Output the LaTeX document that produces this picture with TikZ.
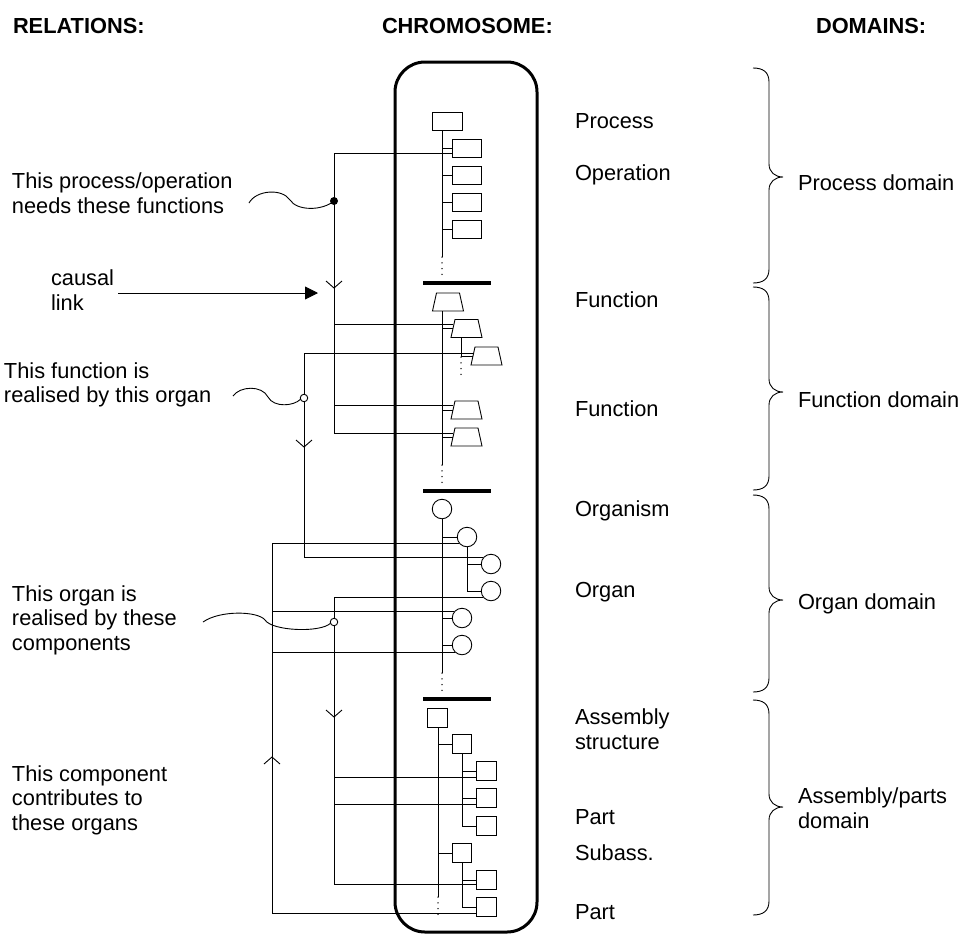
\documentclass[tikz,border=0pt]{standalone}
\usepackage{fontspec}
\setmainfont{Liberation Sans}
\usetikzlibrary{arrows.meta,calc}

\begin{document}
\begin{tikzpicture}[x=1pt,y=-1pt,
  every node/.style={inner sep=0pt,outer sep=0pt},
  rel/.style={line width=0.9pt},
  dotline/.style={line width=1.5pt,dash pattern=on 0pt off 5.8pt,line cap=round},
  lbl/.style={font=\fontsize{21.8}{24.5}\selectfont,align=left,anchor=west},
  hdr/.style={font=\fontsize{21.8}{24.5}\selectfont\bfseries,anchor=west},
  gbox/.style={draw,line width=0.9pt,rectangle,minimum width=29pt,minimum height=18pt},
  sbox/.style={draw,line width=0.9pt,rectangle,minimum width=19.5pt,minimum height=18.5pt},
  fun/.style={rectangle,minimum width=31pt,minimum height=18pt},
  org/.style={draw,line width=0.9pt,circle,minimum size=19.5pt},
  sepbar/.style={fill=black,rectangle,minimum width=68pt,minimum height=3.5pt},
  jdot/.style={fill=black,circle,minimum size=8pt},
  hdot/.style={draw,fill=white,line width=0.9pt,circle,minimum size=7.5pt},
  brace/.style={line width=0.9pt}
]
\useasboundingbox (0,0) rectangle (971,935);

% ---------- headings ----------
\node[hdr] (hRel) at (13,26) {RELATIONS:};
\node[hdr] (hChr) at (382,26) {CHROMOSOME:};
\node[hdr] (hDom) at (816,26) {DOMAINS:};

% ---------- chromosome frame ----------
\node[draw,rounded corners=30pt,line width=3pt,minimum width=142pt,minimum height=870pt] (chrom) at (466,497) {};

% spine x positions
\coordinate (s1) at (442,0);
\coordinate (s2) at (461,0);
\coordinate (s4) at (438,0);

% ---------- process domain ----------
\node[gbox,minimum width=30pt] (P) at (447,121) {};
\node[gbox] (O1) at (466.5,148) {};
\node[gbox] (O2) at (466.5,175) {};
\node[gbox] (O3) at (466.5,202) {};
\node[gbox] (O4) at (466.5,229) {};
\coordinate (d1a) at (442,257);
\coordinate (d1b) at (442,276);
\draw[rel] (P.south -| s1) -- (d1a);
\draw[dotline] (d1a) -- (d1b);
\foreach \n in {O1,O2,O3,O4} \draw[rel] (\n.west -| s1) -- (\n.west);
\node[sepbar] (bar1) at (457,283) {};

% ---------- function domain ----------
\node[fun] (F1) at (448,302) {};
\node[fun] (F2) at (466.5,328.5) {};
\node[fun] (F3) at (486.5,356) {};
\node[fun] (F4) at (466.5,410) {};
\node[fun] (F5) at (466.5,437) {};
% trapezoid outlines, wider at the base
\foreach \n in {F1,F2,F3,F4,F5}
  \draw[rel,line join=miter] (\n.south west) -- (\n.south east) -- ($(\n.north east)+(-4,0)$)
    -- ($(\n.north west)+(4,0)$) -- cycle;
% mid-height points on the slanted left sides
\foreach \n in {F2,F3,F4,F5} \coordinate (\n w) at ($(\n.west)+(2,0)$);
\coordinate (d2a) at (442,465);
\coordinate (d2b) at (442,484);
\draw[rel] (F1.south -| s1) -- (d2a);
\draw[dotline] (d2a) -- (d2b);
\foreach \n in {F2,F4,F5} \draw[rel] (\n w -| s1) -- (\n w);
\coordinate (d3a) at (461,357);
\coordinate (d3b) at (461,375);
\draw[rel] (F2.south -| s2) -- (d3a);
\draw[dotline] (d3a) -- (d3b);
\draw[rel] (F3w -| s2) -- (F3w);
\node[sepbar] (bar2) at (457,491) {};

% ---------- organ domain ----------
\node[org] (C1) at (442,509) {};
\node[org] (C2) at (467,537) {};
\node[org] (C3) at (491,564) {};
\node[org] (C4) at (491,591) {};
\node[org] (C5) at (462,618) {};
\node[org] (C6) at (462,645) {};
\coordinate (d4a) at (442,673);
\coordinate (d4b) at (442,692);
\draw[rel] (C1.south) -- (d4a);
\draw[dotline] (d4a) -- (d4b);
\foreach \n in {C2,C5,C6} \draw[rel] (\n.west -| s1) -- (\n.west);
\draw[rel] (C2.south) |- (C4.west);
\draw[rel] (C3.west -| C2.south) -- (C3.west);
\node[sepbar] (bar3) at (457,699) {};

% ---------- assembly/parts domain ----------
\node[sbox,minimum width=20pt,minimum height=19pt] (A) at (437,717.5) {};
\node[sbox] (B)  at (462,744) {};
\node[sbox] (BC) at (486.5,771) {};
\node[sbox] (BD) at (486.5,798) {};
\node[sbox] (BE) at (486.5,826) {};
\node[sbox] (BF) at (462,853) {};
\node[sbox] (BG) at (486.5,880) {};
\node[sbox] (BH) at (486.5,907) {};
\coordinate (d5a) at (438,897);
\coordinate (d5b) at (438,918);
\draw[rel] (A.south -| s4) -- (d5a);
\draw[dotline] (d5a) -- (d5b);
\foreach \n in {B,BF} \draw[rel] (\n.west -| s4) -- (\n.west);
\draw[rel] (B.south) |- (BE.west);
\foreach \n in {BC,BD} \draw[rel] (\n.west -| B.south) -- (\n.west);
\draw[rel] (BF.south) |- (BH.west);
\draw[rel] (BG.west -| BF.south) -- (BG.west);

% ---------- relation links ----------
\coordinate (t1) at (334,0);
\coordinate (t2) at (304,0);
\coordinate (t3) at (272,0);

\coordinate (e1) at ($(O1.west)+(0,5)$);
\coordinate (e2) at ($(F2w)+(0,-4.5)$);
\coordinate (e3) at ($(F4w)+(0,-5)$);
\coordinate (e4) at ($(F5w)+(0,-4)$);
\coordinate (e5) at ($(F3w)+(0,-3)$);
\coordinate (e6) at (C3.141);
\coordinate (e7) at (C2.219);
\coordinate (e8) at (C5.141);
\coordinate (e9) at (C6.228);
\coordinate (e10) at ($(BH.west)+(0,6)$);
\coordinate (e11) at (C4.219);
\coordinate (e12) at ($(BC.west)+(0,6)$);
\coordinate (e13) at ($(BD.west)+(0,6)$);
\coordinate (e14) at ($(BG.west)+(0,4)$);

% process -> functions
\draw[rel] (e1) -- (e1 -| t1) -- (e4 -| t1) -- (e4);
\draw[rel] (e2 -| t1) -- (e2);
\draw[rel] (e3 -| t1) -- (e3);
% function -> organ
\draw[rel] (e5) -- (e5 -| t2) -- (e6 -| t2) -- (e6);
% component -> organs
\draw[rel] (e7) -- (e7 -| t3) -- (e10 -| t3) -- (e10);
\draw[rel] (e8 -| t3) -- (e8);
\draw[rel] (e9 -| t3) -- (e9);
% organ -> components
\draw[rel] (e11) -- (e11 -| t1) -- (e14 -| t1) -- (e14);
\draw[rel] (e12 -| t1) -- (e12);
\draw[rel] (e13 -| t1) -- (e13);

% direction chevrons
\coordinate (v1) at (334,288);
\coordinate (v2) at (304,447);
\coordinate (v3) at (334,717);
\coordinate (v4) at (272,757);
\draw[rel] ($(v1)+(-8,-7)$) -- (v1) -- ($(v1)+(8,-7)$);
\draw[rel] ($(v2)+(-8,-7)$) -- (v2) -- ($(v2)+(8,-7)$);
\draw[rel] ($(v3)+(-8,-7)$) -- (v3) -- ($(v3)+(8,-7)$);
\draw[rel] ($(v4)+(-8,7)$) -- (v4) -- ($(v4)+(8,7)$);

% junction markers
\node[jdot] (j1) at (334,201) {};
\node[hdot] (j2) at (304,398) {};
\node[hdot] (j3) at (334,622) {};

% ---------- relation captions ----------
\node[lbl] (tNeeds) at (12,193) {This process/operation\\needs these functions};
\node[lbl] (tCausal) at (51,290) {causal\\link};
\node[lbl] (tRealF) at (4,385) {This function is\\realised by this organ};
\node[lbl] (tRealO) at (12,620) {This organ is\\realised by these\\components};
\node[lbl] (tContr) at (12,800) {This component\\contributes to\\these organs};

% wavy leaders
\draw[rel] (249,203) .. controls (256,190) and (282,188) .. (290,200)
  .. controls (297,211) and (322,211) .. (j1.center);
\draw[rel] (233,396) .. controls (240,386) and (262,385) .. (268,397)
  .. controls (274,408) and (294,406) .. (j2.200);
\draw[rel] (203,622) .. controls (220,610) and (258,611) .. (265,620)
  .. controls (272,631) and (320,633) .. (j3.200);

% causal link arrow
\coordinate (clA) at (118,293);
\coordinate (clB) at (318,293);
\draw[rel,-{Triangle[length=13pt,width=13pt]}] (clA) -- (clB);

% ---------- gene labels ----------
\node[lbl] (gProc) at (575,121) {Process};
\node[lbl] (gOper) at (575,175) {Operation};
\node[lbl] (gFun1) at (575,300) {Function};
\node[lbl] (gFun2) at (575,409) {Function};
\node[lbl] (gOrgm) at (575,511) {Organism};
\node[lbl] (gOrgn) at (575,592) {Organ};
\node[lbl] (gAsm)  at (575,729) {Assembly\\structure};
\node[lbl] (gPrt1) at (575,817) {Part};
\node[lbl] (gSub)  at (575,853) {Subass.};
\node[lbl] (gPrt2) at (575,912) {Part};

% ---------- domain braces ----------
\foreach \yt/\ym/\yb in {68/177/283, 287/392/490, 495/600/692, 700/807/915}{
  \draw[brace] (753,\yt) .. controls (763,\yt) and (769,\yt+4) .. (769,\yt+14)
    -- (769,\ym-13) .. controls (769,\ym-5) and (775,\ym) .. (783,\ym)
    .. controls (775,\ym) and (769,\ym+5) .. (769,\ym+13)
    -- (769,\yb-14) .. controls (769,\yb-4) and (763,\yb) .. (753,\yb);
}
\node[lbl] (dProc) at (798,183) {Process domain};
\node[lbl] (dFun)  at (798,400) {Function domain};
\node[lbl] (dOrg)  at (798,604) {Organ domain};
\node[lbl] (dAsm)  at (798,808) {Assembly/parts\\domain};
\end{tikzpicture}
\end{document}
